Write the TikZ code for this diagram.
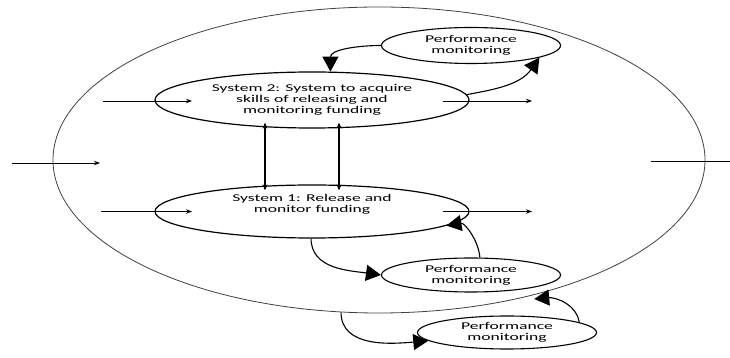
\documentclass[tikz,border=0pt]{standalone}
\usepackage{fontspec}
\usetikzlibrary{arrows.meta,shapes.geometric}
\newfontfamily\lblfont{Carlito}[FakeStretch=1.69]
\begin{document}
\begin{tikzpicture}[x=1pt,y=1pt,
  lbl/.style={align=center,inner sep=0pt,
    font=\lblfont\fontsize{10.4}{11.2}\selectfont},
  sysbox/.style={ellipse,draw,line width=1.2pt,inner sep=0pt,
    minimum width=314pt,minimum height=#1},
  perfbox/.style={ellipse,draw,line width=1.1pt,inner sep=0pt,lbl,
    minimum width=179pt,minimum height=#1},
  flow/.style={line width=0.9pt,-{Stealth[length=6pt,width=4.5pt]}},
  both/.style={line width=1.3pt,{Stealth[length=6pt,width=5pt]}-{Stealth[length=6pt,width=5pt]}},
  loop/.style={line width=1.1pt,-{Triangle[length=15pt,width=16pt]}}]
\useasboundingbox (0,0) rectangle (730,358);

% the enclosing environment
\node[ellipse,draw=black!75,line width=0.8pt,inner sep=0pt,
  minimum width=652pt,minimum height=306pt] (env) at (379,198) {};

% the two systems
\node[sysbox=56pt,lbl] (s2) at (312,258)
  {System 2: System to acquire\\skills of releasing and\\monitoring funding};
\node[sysbox=53pt] (s1) at (312,146.5) {};
\node[lbl] (s1t) at ([yshift=7pt]s1.center) {System 1: Release and\\monitor funding};

% performance monitoring loops
\node[perfbox=36pt] (pm1) at (471,312.5) {Performance\\monitoring};
\node[perfbox=34pt] (pm2) at (471,83) {Performance\\monitoring};
\node[perfbox=33pt] (pm3) at (507,25.5) {Performance\\monitoring};

% inputs and outputs
\coordinate (envin) at (12,195);
\coordinate (envinend) at (100,195);
\coordinate (envout) at (651,197);
\coordinate (envoutend) at (730,197);
\coordinate (s2in) at (103,257);
\coordinate (s2inend) at (192,257);
\coordinate (s2out) at (443,257);
\coordinate (s2outend) at (532,257);
\coordinate (s1in) at (101,146.5);
\coordinate (s1inend) at (192,146.5);
\coordinate (s1out) at (443,146.5);
\coordinate (s1outend) at (532,146.5);

\draw[flow] (envin) -- (envinend);
\draw[line width=0.9pt] (envout) -- (envoutend);
\draw[flow] (s2in) -- (s2inend);
\draw[flow] (s2out) -- (s2outend);
\draw[flow] (s1in) -- (s1inend);
\draw[flow] (s1out) -- (s1outend);

% links between the systems
\draw[both] ([xshift=-47pt,yshift=6pt]s2.south) -- ([xshift=-47pt,yshift=-6pt]s1.north);
\draw[both] ([xshift=27pt,yshift=6pt]s2.south) -- ([xshift=27pt,yshift=-6pt]s1.north);

% feedback loops
\draw[loop] (pm1.west) to[out=180,in=90] (s2.57);
\draw[loop] (s2.2) to[out=10,in=235] (pm1.-10);
\draw[loop] (s1.268) to[out=270,in=172] (pm2.west);
\draw[loop] (pm2.63) to[out=95,in=10] (s1.-6);
\draw[loop] (env.256) to[out=270,in=185] (pm3.186);
\draw[loop] (pm3.8) to[out=100,in=5] ([yshift=-4pt]env.-41);
\end{tikzpicture}
\end{document}
